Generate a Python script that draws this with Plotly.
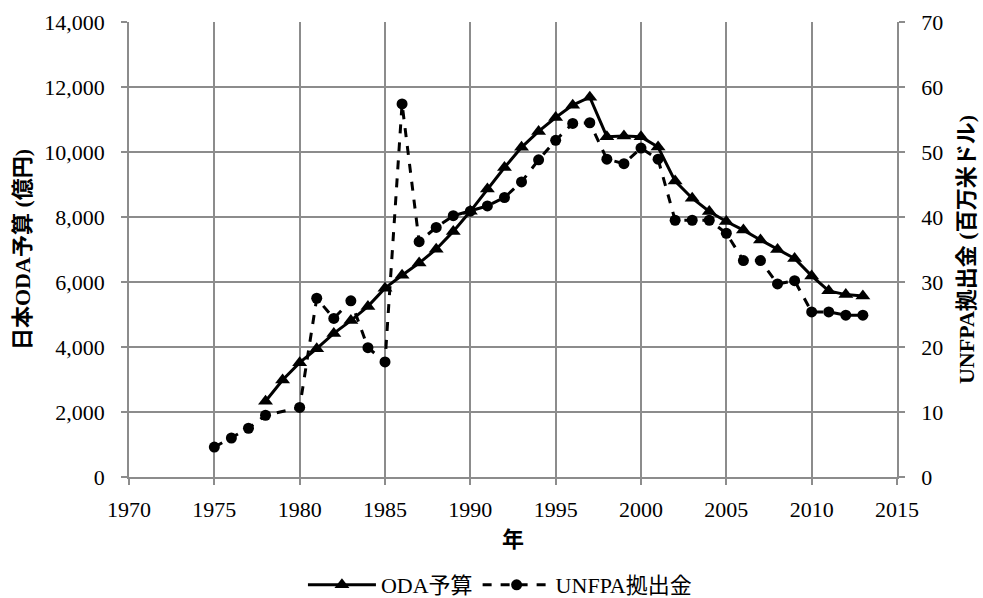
import plotly.graph_objects as go

oda_years = list(range(1978, 2014))
oda_budget = [2332, 2985, 3517, 3950, 4418, 4813, 5250, 5810, 6207, 6582,
              7010, 7557, 8175, 8860, 9522, 10144, 10633, 11060, 11442, 11687,
              10473, 10489, 10466, 10152, 9106, 8578, 8169, 7862, 7597, 7293,
              7002, 6722, 6187, 5727, 5612, 5573]

unfpa_years = [1975, 1976, 1977, 1978, 1980, 1981, 1982, 1983, 1984, 1985,
               1986, 1987, 1988, 1989, 1990, 1991, 1992, 1993, 1994, 1995,
               1996, 1997, 1998, 1999, 2000, 2001, 2002, 2003, 2004, 2005,
               2006, 2007, 2008, 2009, 2010, 2011, 2012, 2013]
unfpa_contrib = [4.6, 6.0, 7.5, 9.5, 10.7, 27.5, 24.4, 27.1, 19.9, 17.7,
                 57.4, 36.2, 38.4, 40.2, 40.9, 41.7, 43.0, 45.4, 48.8, 51.8,
                 54.4, 54.5, 48.9, 48.2, 50.6, 48.9, 39.5, 39.5, 39.5, 37.5,
                 33.3, 33.3, 29.7, 30.2, 25.4, 25.4, 24.9, 24.9]

x_ticks = list(range(1970, 2016, 5))
left_ticks = list(range(0, 14001, 2000))
right_ticks = list(range(0, 71, 10))

FONT = "Liberation Serif, Noto Sans CJK JP"
GRID = "#8c8c8c"
FS = 22
TICKFONT = dict(family="Liberation Serif", size=FS, color="black")

fig = go.Figure()
fig.add_trace(go.Scatter(
    x=oda_years, y=oda_budget, name="ODA予算", mode="lines+markers",
    line=dict(color="black", width=3),
    marker=dict(symbol="triangle-up", size=13, color="black"),
    yaxis="y"))
fig.add_trace(go.Scatter(
    x=unfpa_years, y=unfpa_contrib, name="UNFPA拠出金", mode="lines+markers",
    line=dict(color="black", width=3, dash="dash"),
    marker=dict(symbol="circle", size=11, color="black"),
    yaxis="y2"))

axis_common = dict(showline=True, linecolor=GRID, linewidth=1.5,
                   ticks="outside", ticklen=6, tickwidth=1.5, tickcolor=GRID,
                   zeroline=False, automargin=False, tickfont=TICKFONT)

fig.update_layout(
    width=983, height=598,
    margin=dict(l=129, r=86, t=22, b=121),
    paper_bgcolor="white", plot_bgcolor="white",
    font=dict(family=FONT, size=FS, color="black"),
    xaxis=dict(range=[1970, 2015], tickvals=x_ticks, showgrid=True,
               gridcolor=GRID, gridwidth=1.5, ticklabelstandoff=6,
               title=dict(text="<b>年</b>", font=dict(size=FS), standoff=10),
               **axis_common),
    yaxis=dict(range=[0, 14000], tickvals=left_ticks, tickformat=",",
               showgrid=True, gridcolor=GRID, gridwidth=1.5,
               ticklabelstandoff=12,
               title=dict(text="<b>日本ODA予算 (億円)</b>", font=dict(size=FS),
                          standoff=8),
               **axis_common),
    yaxis2=dict(range=[0, 70], tickvals=right_ticks, overlaying="y",
                side="right", showgrid=False, ticklabelstandoff=12,
                title=dict(text="<b>UNFPA拠出金 (百万米ドル)</b>",
                           font=dict(size=FS), standoff=16),
                **axis_common),
    legend=dict(orientation="h", x=0.483, xanchor="center", y=0.0217,
                yref="container", yanchor="middle", font=dict(size=FS),
                itemwidth=68, traceorder="normal"),
    showlegend=True,
)

fig.write_html("out.html",
               config={"displayModeBar": False},
               post_script="document.body.style.margin='0';")
